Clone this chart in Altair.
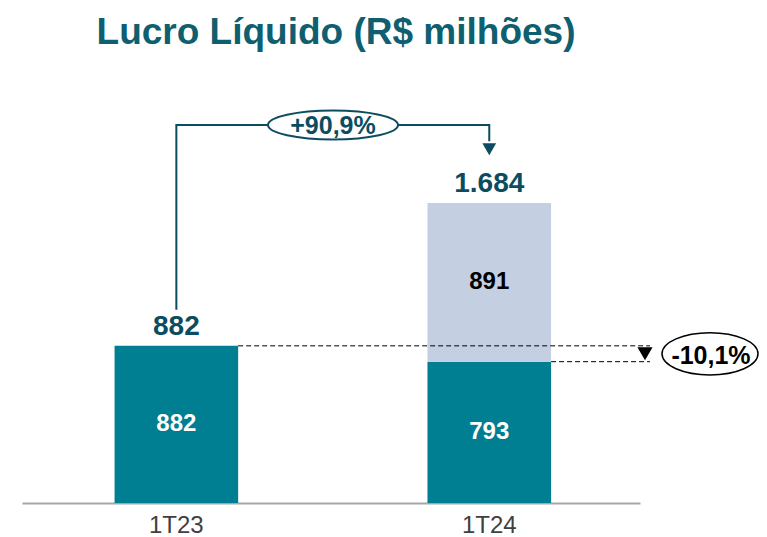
import altair as alt
import pandas as pd

# ---- data ----
categories = ["1T23", "1T24"]
base_values = [882, 793]          # teal segment
extra_values = [0, 891]           # light segment
totals = [882, 1684]
growth_label = "+90,9%"
drop_label = "-10,1%"

def fmt(v):
    return f"{v:,}".replace(",", ".")

TEAL = "#007E92"
LIGHT = "#C5CFE2"
DARK = "#0C4C61"
TITLE_C = "#0E5F70"
FONT = "Liberation Sans"

W, H = 618, 443
YMAX = 2486

segs = []
for c, b, e in zip(categories, base_values, extra_values):
    segs.append({"cat": c, "y0": 0, "y1": b, "mid": b / 2, "lab": fmt(b), "part": "base",
                 "tc": "#FFFFFF"})
    if e > 0:
        segs.append({"cat": c, "y0": b, "y1": b + e, "mid": b + e / 2, "lab": fmt(e), "part": "extra",
                     "tc": "#000000"})
seg_df = pd.DataFrame(segs)
tot_df = pd.DataFrame({"cat": categories, "total": totals, "lab": [fmt(t) for t in totals]})

xenc = alt.X("cat:N", sort=categories, title=None,
             scale=alt.Scale(paddingInner=0.605, paddingOuter=0.29, align=0.51),
             axis=alt.Axis(labelFontSize=24, labelColor="#404040", labelFont=FONT,
                           labelPadding=10, ticks=False, domainColor="#A6A6A6",
                           domainWidth=2, labelAngle=0))
yscale = alt.Scale(domain=[0, YMAX], nice=False, zero=True)

bars = alt.Chart(seg_df).mark_bar().encode(
    x=xenc,
    y=alt.Y("y0:Q", scale=yscale, axis=None),
    y2="y1:Q",
    color=alt.Color("part:N", scale=alt.Scale(domain=["base", "extra"], range=[TEAL, LIGHT]), legend=None),
)

inner = alt.Chart(seg_df).mark_text(fontSize=24, fontWeight="bold", font=FONT, baseline="middle").encode(
    x=alt.X("cat:N", sort=categories),
    y=alt.Y("mid:Q", scale=yscale),
    text="lab:N",
    fill=alt.Fill("tc:N", scale=None),
)

tops = alt.Chart(tot_df).mark_text(fontSize=28, fontWeight="bold", font=FONT, baseline="alphabetic",
                                   dy=-11, color=DARK).encode(
    x=alt.X("cat:N", sort=categories),
    y=alt.Y("total:Q", scale=yscale),
    text="lab:N",
)

# bracket connector (growth)
br_low = totals[0] + 202
br_high = 2121
br_end = 2030
bracket_df = pd.DataFrame({
    "cat": [categories[0], categories[0], categories[1], categories[1]],
    "v": [br_low, br_high, br_high, br_end],
    "o": [0, 1, 2, 3],
})
bracket = alt.Chart(bracket_df).mark_line(color=DARK, strokeWidth=2).encode(
    x=alt.X("cat:N", sort=categories),
    y=alt.Y("v:Q", scale=yscale),
    order="o:Q",
)
arrow = alt.Chart(pd.DataFrame({"cat": [categories[1]], "v": [1985]})).mark_point(
    shape="triangle-down", filled=True, size=190, color=DARK, opacity=1).encode(
    x=alt.X("cat:N", sort=categories),
    y=alt.Y("v:Q", scale=yscale),
)

ellipse1 = "M -1 0 A 1 0.223 0 1 0 1 0 A 1 0.223 0 1 0 -1 0 Z"
ellipse2 = "M -1 0 A 1 0.44 0 1 0 1 0 A 1 0.44 0 1 0 -1 0 Z"

g_df = pd.DataFrame({"v": [br_high], "lab": [growth_label]})
g_ell = alt.Chart(g_df).mark_point(shape=ellipse1, size=130 ** 2, filled=True, fill="white",
                                   stroke=DARK, strokeWidth=2, opacity=1).encode(
    x=alt.value(311), y=alt.Y("v:Q", scale=yscale))
g_txt = alt.Chart(g_df).mark_text(fontSize=25, fontWeight="bold", font=FONT, color=DARK,
                                  baseline="middle", dy=1).encode(
    x=alt.value(311), y=alt.Y("v:Q", scale=yscale), text="lab:N")

# dashed reference lines (decline)
dash_df = pd.DataFrame({"cat": categories, "v": base_values})
dashes = alt.Chart(dash_df).mark_rule(color="black", strokeDash=[5, 3], strokeWidth=1).encode(
    x=alt.X("cat:N", sort=categories, bandPosition=1),
    x2=alt.value(628),
    y=alt.Y("v:Q", scale=yscale),
)
mid_v = (base_values[0] + base_values[1]) / 2
d_df = pd.DataFrame({"v": [mid_v], "lab": [drop_label]})
d_tri = alt.Chart(d_df).mark_point(shape="triangle-down", filled=True, size=230, color="black",
                                   opacity=1).encode(
    x=alt.value(623), y=alt.Y("v:Q", scale=yscale))
d_ell = alt.Chart(d_df).mark_point(shape=ellipse2, size=96 ** 2, filled=False,
                                   stroke="black", strokeWidth=1.5, opacity=1).encode(
    x=alt.value(688), y=alt.Y("v:Q", scale=yscale))
d_txt = alt.Chart(d_df).mark_text(fontSize=25, fontWeight="bold", font=FONT, color="black",
                                  baseline="middle", dy=2).encode(
    x=alt.value(689), y=alt.Y("v:Q", scale=yscale), text="lab:N")

chart = alt.layer(bars, inner, tops, dashes, bracket, arrow, g_ell, g_txt, d_tri, d_ell, d_txt).properties(
    width=W, height=H,
    title=alt.Title("Lucro Líquido (R$ milhões)", fontSize=37, fontWeight="bold", font=FONT,
                    color=TITLE_C, anchor="middle", offset=8, dx=5),
    autosize=alt.AutoSizeParams(type="none"),
    padding={"left": 14, "top": 52, "right": 119, "bottom": 34},
).configure_view(stroke=None)

chart.save("out.html", embed_options={"renderer": "svg", "actions": False})
